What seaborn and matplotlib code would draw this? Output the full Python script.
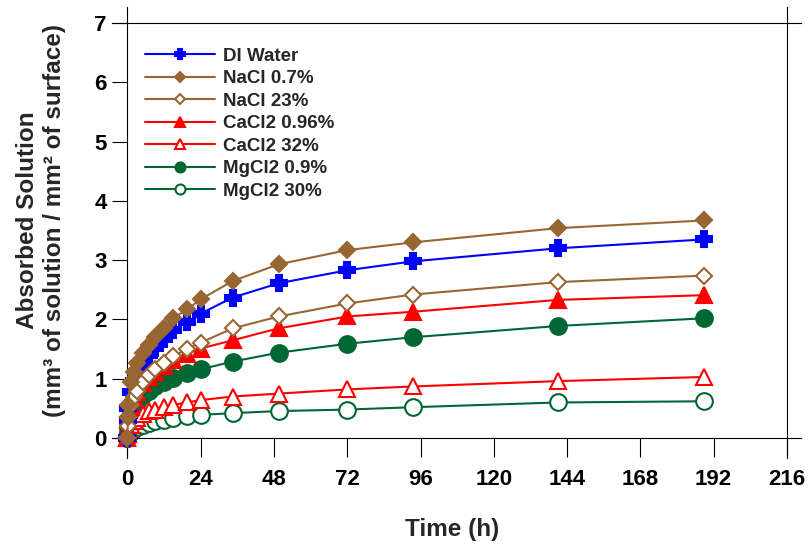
import matplotlib
matplotlib.use("Agg")
import matplotlib.pyplot as plt
import seaborn as sns

# -------- DATOS --------
horas = [0, 0.1, 0.3, 1, 2, 3, 5, 7, 9, 12, 15, 19.5, 24, 34.5, 49.5, 72, 93.5, 141, 189]

di_water = [0, 0.30, 0.50, 0.78, 0.96, 1.08, 1.25, 1.40, 1.52, 1.67, 1.82, 1.96, 2.10, 2.37, 2.61, 2.83, 2.98, 3.20, 3.35]
nacl_07 = [0, 0.35, 0.55, 0.95, 1.12, 1.26, 1.43, 1.57, 1.71, 1.86, 2.02, 2.17, 2.34, 2.65, 2.93, 3.17, 3.30, 3.54, 3.67]
nacl_23 = [0, 0.20, 0.35, 0.55, 0.70, 0.80, 0.95, 1.06, 1.16, 1.27, 1.38, 1.50, 1.61, 1.85, 2.05, 2.27, 2.42, 2.63, 2.74]
cacl2_096 = [0, 0.15, 0.30, 0.52, 0.68, 0.78, 0.92, 1.03, 1.12, 1.22, 1.32, 1.42, 1.51, 1.65, 1.85, 2.05, 2.13, 2.33, 2.41]
cacl2_32 = [0, 0.06, 0.12, 0.22, 0.29, 0.34, 0.40, 0.45, 0.48, 0.52, 0.56, 0.60, 0.64, 0.70, 0.75, 0.82, 0.87, 0.96, 1.03]
mgcl2_09 = [0, 0.12, 0.25, 0.42, 0.53, 0.61, 0.72, 0.80, 0.87, 0.95, 1.02, 1.09, 1.16, 1.29, 1.44, 1.59, 1.70, 1.89, 2.02]
mgcl2_30 = [0, 0.03, 0.06, 0.11, 0.15, 0.18, 0.22, 0.25, 0.28, 0.31, 0.34, 0.37, 0.39, 0.42, 0.455, 0.48, 0.52, 0.60, 0.62]

etiquetas = ["DI Water", "NaCl 0.7%", "NaCl 23%", "CaCl2 0.96%", "CaCl2 32%", "MgCl2 0.9%", "MgCl2 30%"]
series = [di_water, nacl_07, nacl_23, cacl2_096, cacl2_32, mgcl2_09, mgcl2_30]

x_ticks = [0, 24, 48, 72, 96, 120, 144, 168, 192, 216]
y_ticks = [0, 1, 2, 3, 4, 5, 6, 7]

# -------- ESTILO --------
AZUL = "#0000FF"
CAFE = "#996633"
ROJO = "#FF0000"
VERDE = "#006633"
estilos = [
    dict(color=AZUL, marker="P", ms=12, mfc=AZUL, z=6),
    dict(color=CAFE, marker="D", ms=8.5, mfc=CAFE, z=8),
    dict(color=CAFE, marker="D", ms=8.5, mfc="white", z=7),
    dict(color=ROJO, marker="^", ms=11, mfc=ROJO, z=5),
    dict(color=ROJO, marker="^", ms=11, mfc="white", z=4),
    dict(color=VERDE, marker="o", ms=12, mfc=VERDE, z=3),
    dict(color=VERDE, marker="o", ms=12, mfc="white", z=2),
]

sns.set_theme(style="ticks")
plt.rcParams["font.family"] = ["Liberation Sans", "DejaVu Sans"]
plt.rcParams["font.weight"] = "bold"
plt.rcParams["axes.labelweight"] = "bold"

fig = plt.figure(figsize=(8.08, 5.46), dpi=100)
ax = fig.add_axes([0.1389, 0.1619, 0.852, 0.8253])

for vals, lab, st in zip(series, etiquetas, estilos):
    sns.lineplot(x=horas, y=vals, ax=ax, color=st["color"], marker=st["marker"],
                 ms=st["ms"], mfc=st["mfc"], mec=st["color"], mew=1.5,
                 linewidth=1.5, label=lab, zorder=st["z"], legend=False)

ax.set_xlim(-5, 220.5)
ax.set_ylim(-0.33, 7.27)
ax.set_xticks(x_ticks)
ax.set_yticks(y_ticks)

# marco tipo SigmaPlot: lineas que se cruzan en las esquinas
ax.spines["left"].set_position(("data", 0))
ax.spines["bottom"].set_position(("data", 0))
ax.spines["right"].set_position(("data", 216))
ax.spines["top"].set_position(("data", 7))
for s in ax.spines.values():
    s.set_color("black")
    s.set_linewidth(0.8)

ax.tick_params(axis="y", direction="out", length=11, width=0.8, pad=4,
               labelsize=16, colors="black")
ax.tick_params(axis="x", direction="out", length=13.5, width=0.8, pad=9,
               labelsize=16, colors="black")
ax.set_xlabel("")
ax.set_ylabel("")

fig.text(0.0507, 0.597, "Absorbed Solution\n(mm³ of solution / mm² of surface)",
         rotation=90, ha="center", va="center", multialignment="center",
         fontsize=17.5, fontweight="bold", linespacing=1.25)
fig.text(0.559, 0.031, "Time (h)", ha="center", va="center",
         fontsize=17.5, fontweight="bold")

handles, labels = ax.get_legend_handles_labels()
fig.legend(handles, labels, loc="upper left", bbox_to_anchor=(0.1795, 0.913),
           frameon=False, fontsize=13.5, handlelength=3.73, handletextpad=0.43,
           labelspacing=0.29, borderpad=0, borderaxespad=0, markerscale=0.6)

plt.savefig("out.png", dpi=100)
